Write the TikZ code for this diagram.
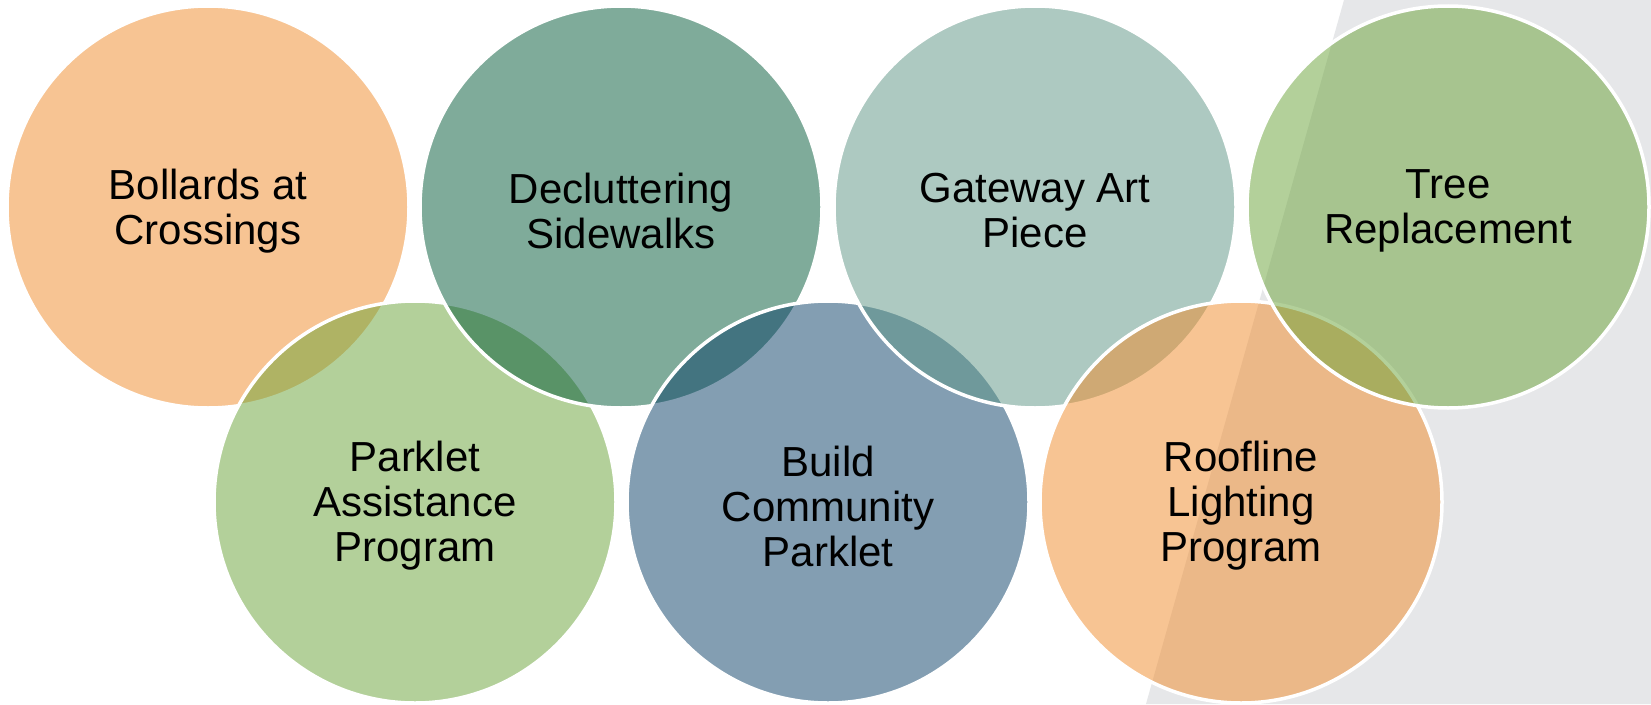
\documentclass[tikz,border=0pt]{standalone}
\usepackage{fontspec}
\setmainfont{Liberation Sans}
\usepackage{xcolor}
\usepackage{tikz}
\definecolor{bollardorange}{RGB}{241,139,41}
\definecolor{declutterteal}{RGB}{0,88,54}
\definecolor{gatewayteal}{RGB}{93,149,133}
\definecolor{parkletgreen}{RGB}{105,163,55}
\definecolor{buildblue}{RGB}{9,63,103}
\definecolor{backgrey}{RGB}{230,231,233}
\newcommand{\bubblefont}{\fontsize{42}{45}\selectfont}

\begin{document}
\begin{tikzpicture}[x=1pt, y=-1pt,
	bubble/.style={circle, minimum size=402pt, inner sep=0pt, draw=white,
		line width=3.5pt, fill opacity=0.5},
	bubbletext/.style={align=center, inner sep=0pt, font=\bubblefont, yshift=-4pt}]
		%% background
		\useasboundingbox (0,0) rectangle (1651,704);
		\fill[white] (0,0) rectangle (1651,704);
		\fill[backgrey] (1344,0) -- (1651,0) -- (1651,704) -- (1146,704) -- cycle;

		%% circles, drawn in zigzag order
		\node[bubble, fill=bollardorange] (bollards) at (208,207) {};
		\node[bubbletext] (bollards text) at (bollards) {Bollards at\\Crossings};
		\node[bubble, fill=parkletgreen] (parklet) at (415,502) {};
		\node[bubbletext] (parklet text) at (parklet) {Parklet\\Assistance\\Program};
		\node[bubble, fill=declutterteal] (declutter) at (621,207) {};
		\node[bubbletext] (declutter text) at (declutter) {Decluttering\\Sidewalks};
		\node[bubble, fill=buildblue] (build) at (828,502) {};
		\node[bubbletext] (build text) at (build) {Build\\Community\\Parklet};
		\node[bubble, fill=gatewayteal] (gateway) at (1035,207) {};
		\node[bubbletext] (gateway text) at (gateway) {Gateway Art\\Piece};
		\node[bubble, fill=bollardorange] (roofline) at (1241,502) {};
		\node[bubbletext] (roofline text) at (roofline) {Roofline\\Lighting\\Program};
		\node[bubble, fill=parkletgreen] (tree) at (1448,207) {};
		\node[bubbletext] (tree text) at (tree) {Tree\\Replacement};
	\end{tikzpicture}
\end{document}
